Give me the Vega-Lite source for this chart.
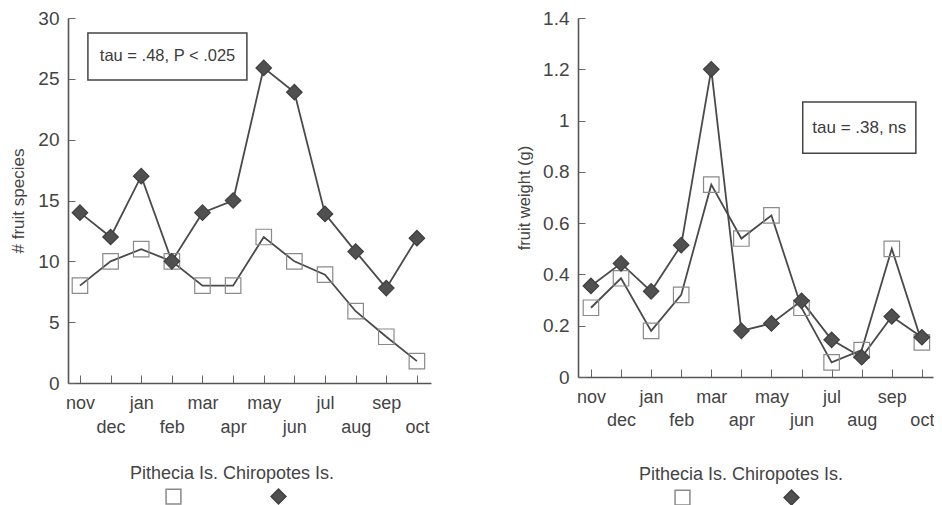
{
  "$schema": "https://vega.github.io/schema/vega-lite/v6.json",
  "background": "white",
  "padding": {"left": 9, "top": 9, "right": 0, "bottom": 0},
  "config": {
    "font": "Liberation Sans",
    "view": {"stroke": null},
    "axis": {"grid": false, "domainColor": "#555", "domainWidth": 1.6, "tickColor": "#666", "tickWidth": 1, "labelColor": "#444", "titleColor": "#444", "titleFontWeight": "normal", "labelFont": "Liberation Sans", "titleFont": "Liberation Sans"},
    "legend": {"titleFont": "Liberation Sans", "labelFont": "Liberation Sans"}
  },
  "datasets": {
    "species": [
      {"month": "nov", "i": 0, "series": "Pithecia Is.", "v": 8},
      {"month": "dec", "i": 1, "series": "Pithecia Is.", "v": 10},
      {"month": "jan", "i": 2, "series": "Pithecia Is.", "v": 11},
      {"month": "feb", "i": 3, "series": "Pithecia Is.", "v": 10},
      {"month": "mar", "i": 4, "series": "Pithecia Is.", "v": 8},
      {"month": "apr", "i": 5, "series": "Pithecia Is.", "v": 8},
      {"month": "may", "i": 6, "series": "Pithecia Is.", "v": 12},
      {"month": "jun", "i": 7, "series": "Pithecia Is.", "v": 10},
      {"month": "jul", "i": 8, "series": "Pithecia Is.", "v": 8.9},
      {"month": "aug", "i": 9, "series": "Pithecia Is.", "v": 5.9},
      {"month": "sep", "i": 10, "series": "Pithecia Is.", "v": 3.8},
      {"month": "oct", "i": 11, "series": "Pithecia Is.", "v": 1.8},
      {"month": "nov", "i": 0, "series": "Chiropotes Is.", "v": 14},
      {"month": "dec", "i": 1, "series": "Chiropotes Is.", "v": 12},
      {"month": "jan", "i": 2, "series": "Chiropotes Is.", "v": 17},
      {"month": "feb", "i": 3, "series": "Chiropotes Is.", "v": 10},
      {"month": "mar", "i": 4, "series": "Chiropotes Is.", "v": 14},
      {"month": "apr", "i": 5, "series": "Chiropotes Is.", "v": 15},
      {"month": "may", "i": 6, "series": "Chiropotes Is.", "v": 25.9},
      {"month": "jun", "i": 7, "series": "Chiropotes Is.", "v": 23.9},
      {"month": "jul", "i": 8, "series": "Chiropotes Is.", "v": 13.9},
      {"month": "aug", "i": 9, "series": "Chiropotes Is.", "v": 10.8},
      {"month": "sep", "i": 10, "series": "Chiropotes Is.", "v": 7.8},
      {"month": "oct", "i": 11, "series": "Chiropotes Is.", "v": 11.9}
    ],
    "weight": [
      {"month": "nov", "i": 0, "series": "Pithecia Is.", "v": 0.27},
      {"month": "dec", "i": 1, "series": "Pithecia Is.", "v": 0.385},
      {"month": "jan", "i": 2, "series": "Pithecia Is.", "v": 0.18},
      {"month": "feb", "i": 3, "series": "Pithecia Is.", "v": 0.32},
      {"month": "mar", "i": 4, "series": "Pithecia Is.", "v": 0.75},
      {"month": "apr", "i": 5, "series": "Pithecia Is.", "v": 0.54},
      {"month": "may", "i": 6, "series": "Pithecia Is.", "v": 0.63},
      {"month": "jun", "i": 7, "series": "Pithecia Is.", "v": 0.27},
      {"month": "jul", "i": 8, "series": "Pithecia Is.", "v": 0.057},
      {"month": "aug", "i": 9, "series": "Pithecia Is.", "v": 0.105},
      {"month": "sep", "i": 10, "series": "Pithecia Is.", "v": 0.5},
      {"month": "oct", "i": 11, "series": "Pithecia Is.", "v": 0.135},
      {"month": "nov", "i": 0, "series": "Chiropotes Is.", "v": 0.355},
      {"month": "dec", "i": 1, "series": "Chiropotes Is.", "v": 0.443},
      {"month": "jan", "i": 2, "series": "Chiropotes Is.", "v": 0.334},
      {"month": "feb", "i": 3, "series": "Chiropotes Is.", "v": 0.514},
      {"month": "mar", "i": 4, "series": "Chiropotes Is.", "v": 1.2},
      {"month": "apr", "i": 5, "series": "Chiropotes Is.", "v": 0.18},
      {"month": "may", "i": 6, "series": "Chiropotes Is.", "v": 0.209},
      {"month": "jun", "i": 7, "series": "Chiropotes Is.", "v": 0.297},
      {"month": "jul", "i": 8, "series": "Chiropotes Is.", "v": 0.145},
      {"month": "aug", "i": 9, "series": "Chiropotes Is.", "v": 0.077},
      {"month": "sep", "i": 10, "series": "Chiropotes Is.", "v": 0.236},
      {"month": "oct", "i": 11, "series": "Chiropotes Is.", "v": 0.155}
    ]
  },
  "spacing": 85,
  "resolve": {
    "scale": {"x": "independent", "y": "independent", "shape": "independent", "fill": "independent", "stroke": "independent"},
    "legend": {"shape": "independent", "fill": "independent", "stroke": "independent"}
  },
  "hconcat": [
    {
      "width": 363,
      "height": 365,
      "resolve": {"axis": {"x": "independent"}},
      "layer": [
        {
          "data": {"values": [{}]},
          "mark": {"type": "rect", "fill": null, "stroke": "#444", "strokeWidth": 1.5},
          "encoding": {
            "x": {"datum": 0.26, "type": "quantitative", "axis": null},
            "x2": {"datum": 5.45},
            "y": {"datum": 28.77, "type": "quantitative"},
            "y2": {"datum": 24.9}
          }
        },
        {
          "data": {"values": [{}]},
          "mark": {"type": "text", "fontSize": 16.5, "color": "#3c3c3c", "align": "center", "baseline": "middle"},
          "encoding": {
            "x": {"datum": 2.86, "type": "quantitative", "axis": null},
            "y": {"datum": 26.85, "type": "quantitative"},
            "text": {"value": "tau = .48, P < .025"}
          }
        },
        {
          "data": {"name": "species"},
          "mark": {"type": "line", "color": "#4a4a4a", "strokeWidth": 1.8},
          "encoding": {
            "x": {"field": "i", "type": "quantitative", "scale": {"domain": [-0.39, 11.46], "nice": false, "zero": false},
              "axis": {"orient": "bottom", "title": null, "values": [0,1,2,3,4,5,6,7,8,9,10,11], "tickSize": -8, "labelFontSize": 18, "labelPadding": 19, "labelOverlap": false, "labelBound": false, "labelFlush": false, "labelAlign": "center", "labelBaseline": "top",
                "labelExpr": "datum.value % 2 == 0 ? ['nov','dec','jan','feb','mar','apr','may','jun','jul','aug','sep','oct'][datum.value] : ''"}},
            "y": {"field": "v", "type": "quantitative", "scale": {"domain": [0, 30], "nice": false},
              "axis": {"title": "# fruit species", "titleFontSize": 17, "values": [0,2.5,5,7.5,10,12.5,15,17.5,20,22.5,25,27.5,30], "tickSize": -7, "labelFontSize": 19, "labelPadding": 16, "labelOverlap": false, "labelExpr": "datum.value % 5 == 0 ? datum.label : ''", "titlePadding": 10}},
            "detail": {"field": "series"}
          }
        },
        {
          "data": {"name": "species"},
          "mark": {"type": "point", "filled": true, "size": 240, "strokeWidth": 1.2, "opacity": 1},
          "encoding": {
            "x": {"field": "i", "type": "quantitative",
              "axis": {"orient": "bottom", "title": null, "values": [0,1,2,3,4,5,6,7,8,9,10,11], "domain": false, "ticks": false, "tickSize": 0, "labelFontSize": 18, "labelPadding": 35, "labelOverlap": false, "labelBound": false, "labelFlush": false, "labelAlign": "center", "labelBaseline": "top",
                "labelExpr": "datum.value % 2 == 1 ? ['nov','dec','jan','feb','mar','apr','may','jun','jul','aug','sep','oct'][datum.value] : ''"}},
            "y": {"field": "v", "type": "quantitative"},
            "shape": {"field": "series", "type": "nominal", "scale": {"domain": ["Pithecia Is.", "Chiropotes Is."], "range": ["square", "diamond"]},
              "legend": {"orient": "none", "legendX": 62, "legendY": 447, "direction": "horizontal", "title": "Pithecia Is. Chiropotes Is.", "titleFontSize": 18, "titleFontWeight": "normal", "titleColor": "#444", "titlePadding": 5, "titleLimit": 400, "labelExpr": "''", "labelOffset": 0, "columnPadding": 51, "symbolOffset": 35, "symbolSize": 220, "padding": 0}},
            "fill": {"field": "series", "type": "nominal", "scale": {"domain": ["Pithecia Is.", "Chiropotes Is."], "range": ["transparent", "#505050"]}},
            "stroke": {"field": "series", "type": "nominal", "scale": {"domain": ["Pithecia Is.", "Chiropotes Is."], "range": ["#8a8a8a", "#3f3f3f"]}}
          }
        }
      ]
    },
    {
      "width": 355,
      "height": 359,
      "resolve": {"axis": {"x": "independent"}},
      "layer": [
        {
          "data": {"values": [{}]},
          "mark": {"type": "rect", "fill": null, "stroke": "#444", "strokeWidth": 1.5},
          "encoding": {
            "x": {"datum": 7.04, "type": "quantitative", "axis": null},
            "x2": {"datum": 10.8},
            "y": {"datum": 1.072, "type": "quantitative"},
            "y2": {"datum": 0.873}
          }
        },
        {
          "data": {"values": [{}]},
          "mark": {"type": "text", "fontSize": 17, "color": "#3c3c3c", "align": "center", "baseline": "middle"},
          "encoding": {
            "x": {"datum": 8.92, "type": "quantitative", "axis": null},
            "y": {"datum": 0.972, "type": "quantitative"},
            "text": {"value": "tau = .38, ns"}
          }
        },
        {
          "data": {"name": "weight"},
          "mark": {"type": "line", "color": "#4a4a4a", "strokeWidth": 1.8},
          "encoding": {
            "x": {"field": "i", "type": "quantitative", "scale": {"domain": [-0.43, 11.37], "nice": false, "zero": false},
              "axis": {"orient": "bottom", "title": null, "values": [0,1,2,3,4,5,6,7,8,9,10,11], "tickSize": -8, "labelFontSize": 18, "labelPadding": 19, "labelOverlap": false, "labelBound": false, "labelFlush": false, "labelAlign": "center", "labelBaseline": "top",
                "labelExpr": "datum.value % 2 == 0 ? ['nov','dec','jan','feb','mar','apr','may','jun','jul','aug','sep','oct'][datum.value] : ''"}},
            "y": {"field": "v", "type": "quantitative", "scale": {"domain": [0, 1.4], "nice": false},
              "axis": {"title": "fruit weight (g)", "titleFontSize": 16.5, "values": [0,0.1,0.2,0.3,0.4,0.5,0.6,0.7,0.8,0.9,1,1.1,1.2,1.3,1.4], "tickSize": -7, "labelFontSize": 19, "labelPadding": 16, "labelOverlap": false, "labelExpr": "round(datum.value * 10) % 2 == 0 ? format(datum.value, '~g') : ''", "titlePadding": 10}},
            "detail": {"field": "series"}
          }
        },
        {
          "data": {"name": "weight"},
          "mark": {"type": "point", "filled": true, "size": 240, "strokeWidth": 1.2, "opacity": 1},
          "encoding": {
            "x": {"field": "i", "type": "quantitative",
              "axis": {"orient": "bottom", "title": null, "values": [0,1,2,3,4,5,6,7,8,9,10,11], "domain": false, "ticks": false, "tickSize": 0, "labelFontSize": 18, "labelPadding": 34, "labelOverlap": false, "labelBound": false, "labelFlush": false, "labelAlign": "center", "labelBaseline": "top",
                "labelExpr": "datum.value % 2 == 1 ? ['nov','dec','jan','feb','mar','apr','may','jun','jul','aug','sep','oct'][datum.value] : ''"}},
            "y": {"field": "v", "type": "quantitative"},
            "shape": {"field": "series", "type": "nominal", "scale": {"domain": ["Pithecia Is.", "Chiropotes Is."], "range": ["square", "diamond"]},
              "legend": {"orient": "none", "legendX": 61, "legendY": 448, "direction": "horizontal", "title": "Pithecia Is. Chiropotes Is.", "titleFontSize": 18, "titleFontWeight": "normal", "titleColor": "#444", "titlePadding": 5, "titleLimit": 400, "labelExpr": "''", "labelOffset": 0, "columnPadding": 55, "symbolOffset": 35, "symbolSize": 220, "padding": 0}},
            "fill": {"field": "series", "type": "nominal", "scale": {"domain": ["Pithecia Is.", "Chiropotes Is."], "range": ["transparent", "#505050"]}},
            "stroke": {"field": "series", "type": "nominal", "scale": {"domain": ["Pithecia Is.", "Chiropotes Is."], "range": ["#8a8a8a", "#3f3f3f"]}}
          }
        }
      ]
    }
  ]
}
